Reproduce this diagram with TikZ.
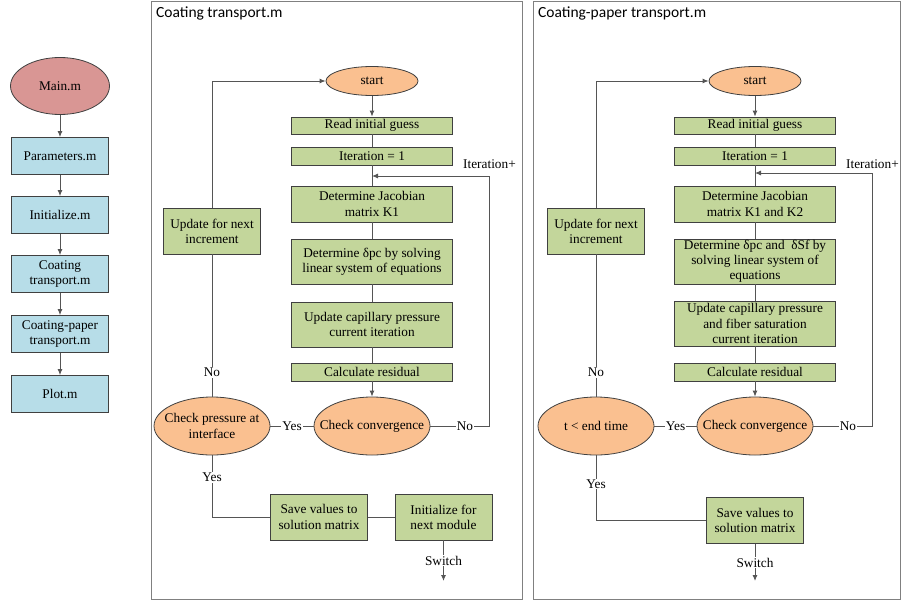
\documentclass[tikz,border=0pt]{standalone}
\usepackage{fontspec}
\setmainfont{Liberation Serif}
\newfontfamily\titlefont{Carlito}
\usepackage[dvipsnames]{xcolor}
\usetikzlibrary{shapes.geometric,arrows.meta}
\definecolor{procgreen}{HTML}{C3D69B}
\definecolor{ovalorange}{HTML}{FAC090}
\definecolor{ovalred}{HTML}{D99694}
\definecolor{modblue}{HTML}{B7DDE8}
\definecolor{boxedge}{HTML}{404040}
\definecolor{linegray}{HTML}{555555}
\definecolor{framegray}{HTML}{808080}

\begin{document}
\begin{tikzpicture}[x=1pt,y=-1pt,>={Latex[length=6pt,width=5pt]},
  font=\fontsize{13.3}{15.2}\selectfont,
  proc/.style={draw=boxedge, fill=procgreen, line width=0.8pt, align=center, inner sep=0pt, minimum width=161pt},
  small/.style={proc, minimum width=97pt, minimum height=46pt},
  modbox/.style={draw=boxedge, fill=modblue, line width=0.8pt, align=center, inner sep=0pt, minimum width=97pt, minimum height=37pt},
  oval/.style={ellipse, draw=boxedge, fill=ovalorange, line width=0.8pt, align=center, inner sep=-14pt, minimum width=116pt, minimum height=58pt},
  link/.style={draw=linegray, line width=0.9pt},
  lbl/.style={fill=white, inner sep=1pt},
  frame/.style={draw=framegray, line width=1pt},
  title/.style={font=\titlefont\fontsize{15.5}{18}\selectfont, anchor=west, inner sep=0pt}]
\useasboundingbox (0,0) rectangle (901,602);

% main program column
\node[oval, fill=ovalred, minimum width=99pt, minimum height=57pt] (main) at (60,86) {Main.m};
\node[modbox] (param) at (60,156) {Parameters.m};
\node[modbox] (initz) at (60,215) {Initialize.m};
\node[modbox] (coat) at (60,274) {Coating\\transport.m};
\node[modbox] (paper) at (60,334) {Coating-paper\\transport.m};
\node[modbox] (plot) at (60,394) {Plot.m};
\draw[link,->] (main) -- (param);
\draw[link,->] (param) -- (initz);
\draw[link,->] (initz) -- (coat);
\draw[link,->] (coat) -- (paper);
\draw[link,->] (paper) -- (plot);

% Coating transport.m
\draw[frame] (151,2) rectangle (522,599);
\node[title] (t1) at (156,13) {Coating transport.m};
\node[oval, minimum width=92pt, minimum height=29pt] (start1) at (372,81) {start};
\node[proc, minimum height=17pt] (read1) at (372,125.5) {Read initial guess};
\node[proc, minimum height=18pt] (iter1) at (372,156) {Iteration = 1};
\node[proc, minimum height=36pt] (jac1) at (372,204) {Determine Jacobian\\matrix K1};
\node[proc, minimum height=45pt] (dp1) at (372,261.5) {Determine δpc by solving\\linear system of equations};
\node[proc, minimum height=45pt] (capup1) at (372,324.5) {Update capillary pressure\\current iteration};
\node[proc, minimum height=18pt] (res1) at (372,372) {Calculate residual};
\node[oval] (conv1) at (372,426) {Check convergence};
\node[oval] (chk1) at (212,426) {Check pressure at\\interface};
\node[small] (incr1) at (212,231) {Update for next\\increment};
\node[small] (save1) at (319,517) {Save values to\\solution matrix};
\node[small] (init1) at (443.5,517) {Initialize for\\next module};
\node[anchor=west, inner sep=0pt] (itp1) at (463,164) {Iteration+};
\coordinate (j1) at (372,176);
\coordinate (r1) at (489,426);
\coordinate (end1) at (443.5,581);
\draw[link,->] (start1) -- (read1);
\draw[link] (read1) -- (iter1) (iter1) -- (jac1) (jac1) -- (dp1) (dp1) -- (capup1) (capup1) -- (res1);
\draw[link,->] (res1) -- (conv1);
\draw[link,->] (conv1) -- node[lbl,pos=0.59]{No} (r1) |- (j1);
\draw[link] (chk1) -- node[lbl]{Yes} (conv1);
\draw[link] (incr1) -- node[lbl,pos=0.83]{No} (chk1);
\draw[link,->] (incr1) |- (start1);
\draw[link] (chk1) |- node[lbl,pos=0.18]{Yes} (save1);
\draw[link] (save1) -- (init1);
\draw[link,->] (init1) -- node[lbl]{Switch} (end1);

% Coating-paper transport.m
\draw[frame] (533,2) rectangle (900,599);
\node[title] (t2) at (538,13) {Coating-paper transport.m};
\node[oval, minimum width=92pt, minimum height=29pt] (start2) at (755,81) {start};
\node[proc, minimum height=17pt] (read2) at (755,125.5) {Read initial guess};
\node[proc, minimum height=18pt] (iter2) at (755,156) {Iteration = 1};
\node[proc, minimum height=36pt] (jac2) at (755,204) {Determine Jacobian\\matrix K1 and K2};
\node[proc, minimum height=45pt] (dp2) at (755,261.5) {Determine δpc and \ δSf by\\solving linear system of\\equations};
\node[proc, minimum height=45pt] (capup2) at (755,323.5) {Update capillary pressure\\and fiber saturation\\current iteration};
\node[proc, minimum height=18pt] (res2) at (755,372) {Calculate residual};
\node[oval] (conv2) at (755,426) {Check convergence};
\node[oval] (chk2) at (596,426) {t < end time};
\node[small] (incr2) at (596,231) {Update for next\\increment};
\node[small] (save2) at (755,520.5) {Save values to\\solution matrix};
\node[anchor=west, inner sep=0pt] (itp2) at (846,164) {Iteration+};
\coordinate (j2) at (755,173);
\coordinate (r2) at (872,426);
\coordinate (end2) at (755,581);
\draw[link,->] (start2) -- (read2);
\draw[link] (read2) -- (iter2) (iter2) -- (jac2) (jac2) -- (dp2) (dp2) -- (capup2) (capup2) -- (res2);
\draw[link,->] (res2) -- (conv2);
\draw[link,->] (conv2) -- node[lbl,pos=0.59]{No} (r2) |- (j2);
\draw[link] (chk2) -- node[lbl]{Yes} (conv2);
\draw[link] (incr2) -- node[lbl,pos=0.83]{No} (chk2);
\draw[link,->] (incr2) |- (start2);
\draw[link] (chk2) |- node[lbl,pos=0.22]{Yes} (save2);
\draw[link,->] (save2) -- node[lbl]{Switch} (end2);
\end{tikzpicture}
\end{document}
